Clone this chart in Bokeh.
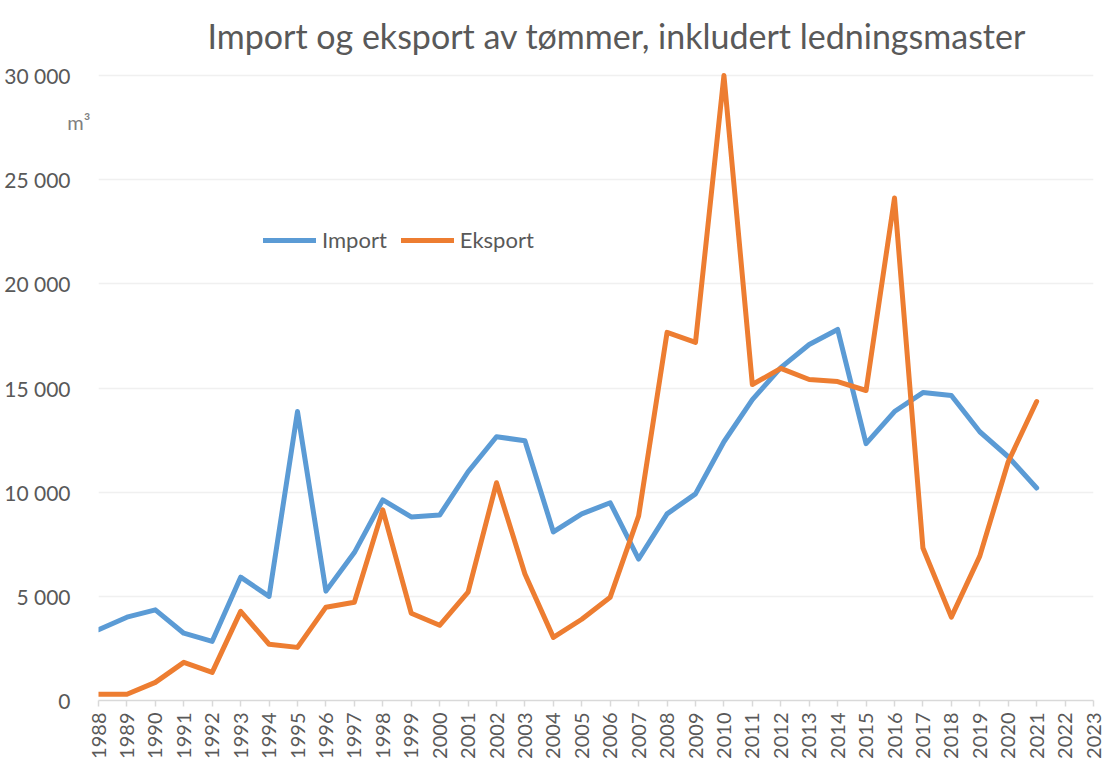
import math
from bokeh.plotting import figure
from bokeh.models import FixedTicker, Range1d, Legend, LegendItem, LinearAxis
from bokeh.embed import file_html
from bokeh.resources import INLINE

# ---- data (m3) ----
years = [1988, 1989, 1990, 1991, 1992, 1993, 1994, 1995, 1996, 1997, 1998, 1999,
         2000, 2001, 2002, 2003, 2004, 2005, 2006, 2007, 2008, 2009, 2010, 2011,
         2012, 2013, 2014, 2015, 2016, 2017, 2018, 2019, 2020, 2021]
import_m3 = [3400, 4000, 4350, 3230, 2840, 5920, 5000, 13870, 5250, 7100, 9630, 8810,
             8900, 10980, 12660, 12470, 8090, 8960, 9490, 6790, 8960, 9920, 12420, 14440,
             15980, 17090, 17810, 12330, 13870, 14780, 14640, 12900, 11700, 10200]
eksport_m3 = [300, 300, 870, 1830, 1350, 4280, 2700, 2550, 4480, 4720, 9150, 4190,
              3610, 5200, 10450, 6070, 3030, 3900, 4960, 8860, 17670, 17190, 30000, 15170,
              15940, 15410, 15310, 14880, 24120, 7320, 4000, 6930, 11460, 14350]

x_ticks = [1988, 1989, 1990, 1991, 1992, 1993, 1994, 1995, 1996, 1997, 1998, 1999,
           2000, 2001, 2002, 2003, 2004, 2005, 2006, 2007, 2008, 2009, 2010, 2011,
           2012, 2013, 2014, 2015, 2016, 2017, 2018, 2019, 2020, 2021, 2022, 2023]
y_ticks = [0, 5000, 10000, 15000, 20000, 25000, 30000]
y_tick_labels = ["0", "5 000", "10 000", "15 000", "20 000", "25 000", "30 000"]

series_names = ["Import", "Eksport"]
series_colors = ["#5B9BD5", "#ED7D31"]

title_text = "Import og eksport av tømmer, inkludert ledningsmaster"
unit_text = "m³"
unit_pos = 27750

FONT = "Lato"
GRAY = "#595959"

p = figure(width=1103, height=764, output_backend="svg", toolbar_location=None,
           x_range=Range1d(1988, 2023), y_range=Range1d(0, 30384),
           min_border_left=98, min_border_right=10, min_border_top=67, min_border_bottom=64,
           title=title_text)

p.outline_line_color = None
p.background_fill_color = "white"
p.border_fill_color = "white"

p.title.text_font = FONT
p.title.text_font_size = "34px"
p.title.text_font_style = "normal"
p.title.text_color = GRAY
p.title.align = "left"
p.title.offset = 109
p.title.standoff = 23

# x axis
xa = p.xaxis[0]
xa.ticker = FixedTicker(ticks=x_ticks)
xa.major_label_orientation = math.pi / 2
xa.major_label_text_font = FONT
xa.major_label_text_font_size = "20px"
xa.major_label_text_color = GRAY
xa.axis_line_color = "#d9d9d9"
xa.axis_line_width = 1.5
xa.major_tick_line_color = "#d9d9d9"
xa.major_tick_line_width = 1.5
xa.major_tick_in = 0
xa.major_tick_out = 6
xa.minor_tick_line_color = None
xa.major_label_standoff = 6

# main y axis (outer)
ya = p.yaxis[0]
ya.ticker = FixedTicker(ticks=y_ticks)
ya.major_label_overrides = {t: s for t, s in zip(y_ticks, y_tick_labels)}
ya.major_label_text_font = FONT
ya.major_label_text_font_size = "21px"
ya.major_label_text_color = GRAY
ya.axis_line_color = None
ya.major_tick_line_color = None
ya.minor_tick_line_color = None
ya.major_tick_out = 0
ya.major_tick_in = 0
ya.major_label_standoff = -6

# unit axis (inner, holds only the m³ text)
ua = LinearAxis(ticker=FixedTicker(ticks=[unit_pos]),
                major_label_overrides={unit_pos: unit_text})
ua.major_label_text_font = FONT
ua.major_label_text_font_size = "20px"
ua.major_label_text_color = "#7f7f7f"
ua.axis_line_color = None
ua.major_tick_line_color = None
ua.minor_tick_line_color = None
ua.major_tick_out = 0
ua.major_tick_in = 0
ua.major_label_standoff = 8
p.left = [ua, ya]

p.xgrid.grid_line_color = None
p.ygrid.grid_line_color = "#f0f0f0"
p.ygrid.grid_line_width = 1.5
p.ygrid.ticker = FixedTicker(ticks=y_ticks)

r_imp = p.line(years, import_m3, line_width=5, line_color=series_colors[0],
               line_cap="round", line_join="round")
r_eks = p.line(years, eksport_m3, line_width=5, line_color=series_colors[1],
               line_cap="round", line_join="round")

legend = Legend(items=[LegendItem(label=series_names[0], renderers=[r_imp]),
                       LegendItem(label=series_names[1], renderers=[r_eks])],
                orientation="horizontal", location=(165, 447),
                label_text_font=FONT, label_text_font_size="22px",
                label_text_color=GRAY, glyph_width=53, glyph_height=22,
                label_standoff=6, spacing=14, padding=0, margin=0,
                background_fill_alpha=0, border_line_color=None)
p.add_layout(legend, "center")

open("out.html", "w").write(file_html(p, INLINE))
